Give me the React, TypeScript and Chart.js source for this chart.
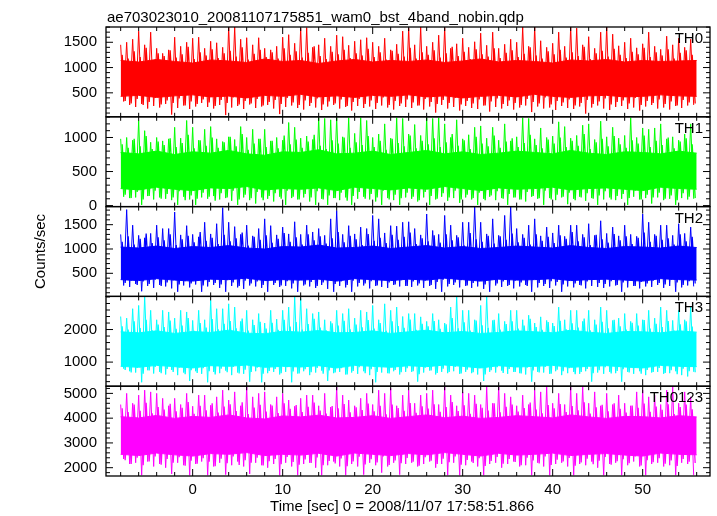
import React, { useEffect, useRef } from "react";
import { Chart, registerables } from "chart.js";

Chart.register(...registerables);

const TITLE = "ae703023010_20081107175851_wam0_bst_4band_nobin.qdp";
const X_TITLE = "Time [sec] 0 = 2008/11/07 17:58:51.866";
const Y_TITLE = "Counts/sec";

const T_START = -8;
const T_END = 56;
const X_MIN = -9.63;
const X_MAX = 57.48;
const X_TICKS = [0, 10, 20, 30, 40, 50];
const X_MINOR = 2;

const BANDS = ["TH0", "TH1", "TH2", "TH3", "TH0123"];
const COLORS = ["#ff0000", "#00ff00", "#0000ff", "#00ffff", "#ff00ff"];
const Y_RANGES = [
  [26, 1802],
  [-15, 1304],
  [25, 1872],
  [260, 3018],
  [1665, 5290],
];
const Y_TICKS = [
  [500, 1000, 1500],
  [0, 500, 1000],
  [500, 1000, 1500],
  [1000, 2000],
  [2000, 3000, 4000, 5000],
];
const Y_MINOR = [100, 100, 100, 200, 200];

// ---- TH0 ----
const TH0_HI = [
  1450, 1500, 1560, 1720, 1450, 1700, 1380, 1280,
  1350, 1600, 1420, 1500, 1580, 1600, 1380, 1520,
  1490, 1400, 1802, 1802, 1560, 1590, 1450, 1590,
  1380, 1350, 1420, 1600, 1650, 1480, 1780, 1790,
  1400, 1450, 1580, 1420, 1640, 1610, 1440, 1520,
  1550, 1590, 1500, 1420, 1580, 1350, 1460, 1720,
  1780, 1450, 1802, 1420, 1500, 1640, 1790, 1380,
  1470, 1580, 1400, 1510, 1680, 1440, 1700, 1380,
  1460, 1560, 1500, 1802, 1420, 1802, 1530, 1400,
  1480, 1700, 1420, 1802, 1780, 1450, 1610, 1380,
  1700, 1802, 1660, 1430, 1500, 1580, 1390, 1470,
  1700, 1420, 1360, 1620, 1450, 1580, 1400, 1560,
];
const TH0_LO = [
  330, 260, 220, 280, 190, 240, 210, 280,
  70, 200, 250, 180, 230, 300, 220, 190,
  260, 60, 210, 240, 180, 270, 200, 230,
  260, 190, 80, 220, 250, 200, 170, 240,
  210, 160, 230, 260, 190, 220, 150, 240,
  200, 230, 180, 250, 210, 170, 240, 220,
  200, 250, 170, 230, 110, 260, 190, 220,
  150, 240, 200, 180, 250, 130, 220, 190,
  240, 170, 210, 250, 120, 230, 190, 210,
  160, 240, 200, 180, 230, 90, 210, 250,
  190, 160, 220, 240, 180, 210, 150, 230,
  260, 190, 210, 170, 240, 200, 250, 260,
];
const TH0_MID_HI = [
  1250, 1180, 1320, 1210, 1390, 1150, 1280, 1230,
  1340, 1200, 1260, 1410, 1170, 1300, 1240, 1360,
  1190, 1280, 1330, 1220, 1400, 1160, 1270, 1350,
  1210, 1300, 1180, 1380, 1250, 1320, 1200, 1290,
  1420, 1230, 1170, 1310, 1260, 1350, 1190, 1280,
  1240, 1370, 1210, 1300, 1160, 1330, 1270, 1220,
  1390, 1180, 1300, 1250, 1340, 1200, 1280, 1410,
  1230, 1310, 1170, 1360, 1260, 1220, 1380, 1190,
  1290, 1340, 1210, 1270, 1400, 1240, 1180, 1320,
  1260, 1350, 1200, 1300, 1230, 1410, 1170, 1280,
  1330, 1220, 1370, 1250, 1190, 1310, 1260, 1390,
  1210, 1300, 1240, 1360, 1180, 1290, 1340, 1250,
];
const TH0_MID_LO = [
  340, 290, 380, 260, 320, 400, 270, 350,
  300, 390, 250, 330, 280, 370, 310, 240,
  360, 300, 410, 270, 340, 290, 380, 250,
  320, 360, 280, 400, 310, 260, 350, 300,
  390, 270, 330, 290, 370, 240, 320, 380,
  280, 350, 300, 410, 260, 340, 290, 370,
  310, 250, 380, 320, 280, 360, 300, 400,
  270, 340, 290, 370, 250, 330, 390, 280,
  350, 300, 260, 380, 320, 290, 410, 270,
  340, 310, 370, 250, 300, 360, 280, 330,
  390, 270, 320, 350, 290, 400, 260, 340,
  300, 370, 280, 330, 250, 360, 310, 290,
];
const TH0_CORE_HI = [1140, 1110, 1160, 1120, 1090, 1150, 1130, 1100, 1170, 1120, 1140, 1080, 1130, 1160, 1110, 1140, 1120, 1150, 1100, 1130, 1170, 1110, 1140, 1120, 1090, 1150, 1130, 1160, 1110, 1140, 1120, 1130, 1140];
const TH0_CORE_LO = [430, 450, 410, 440, 460, 420, 435, 400, 450, 430, 470, 420, 440, 410, 450, 430, 460, 420, 440, 400, 430, 450, 420, 470, 430, 410, 440, 450, 420, 430, 460, 440, 430];

// ---- TH1 ----
const TH1_HI = [
  980, 1000, 960, 1250, 1100, 930, 1000, 950,
  980, 1150, 990, 1250, 1150, 960, 1120, 1160,
  980, 940, 1010, 970, 1160, 1000, 1120, 980,
  1120, 950, 1000, 960, 1220, 1150, 990, 1020,
  970, 1290, 1280, 1260, 1290, 1010, 1290, 1060,
  1290, 1250, 1000, 1050, 1200, 990, 1290, 1280,
  1050, 1190, 1030, 1290, 1280, 1290, 1200, 1000,
  1260, 980, 1040, 1150, 1170, 990, 1150, 960,
  1200, 950, 1010, 1290, 1280, 980, 1140, 1000,
  1020, 1230, 1160, 990, 1030, 1180, 1200, 970,
  1240, 1010, 1150, 990, 1030, 1290, 1000, 1140,
  1120, 1140, 1200, 980, 1010, 960, 1050, 1200,
];
const TH1_LO = [
  130, 110, 120, 10, 140, 90, 120, 100,
  80, 10, 130, 90, 10, 120, 100, 140,
  90, 110, 70, 10, 120, 80, 30, 120,
  100, 60, 130, 10, 110, 90, 120, 60,
  10, 100, 10, 110, 80, 120, 10, 100,
  130, 90, 60, 10, 110, 80, 10, 120,
  100, 60, 120, 10, 90, 130, 70, 110,
  40, 120, 90, 10, 100, 130, 80, 110,
  10, 120, 90, 60, 130, 100, 10, 110,
  80, 120, 20, 100, 130, 70, 110, 10,
  90, 120, 80, 100, 10, 130, 90, 110,
  30, 120, 80, 100, 10, 110, 90, 100,
];
const TH1_MID_HI = [
  900, 850, 980, 870, 1020, 830, 940, 890,
  990, 860, 920, 1040, 840, 960, 880, 1000,
  850, 930, 1010, 870, 1050, 820, 910, 980,
  860, 950, 840, 1030, 900, 970, 850, 940,
  1040, 880, 830, 960, 910, 1000, 850, 930,
  890, 1020, 860, 950, 820, 980, 920, 870,
  1030, 840, 950, 900, 990, 860, 930, 1050,
  880, 960, 830, 1010, 910, 870, 1030, 850,
  940, 990, 860, 920, 1040, 890, 840, 970,
  910, 1000, 860, 950, 880, 1050, 830, 930,
  980, 870, 1020, 900, 850, 960, 910, 1030,
  860, 950, 890, 1000, 840, 940, 990, 900,
];
const TH1_MID_LO = [
  160, 110, 200, 90, 140, 220, 100, 170,
  120, 210, 80, 150, 100, 190, 130, 70,
  180, 120, 220, 90, 160, 110, 200, 80,
  140, 180, 100, 220, 130, 90, 170, 120,
  210, 90, 150, 110, 190, 70, 140, 200,
  100, 170, 120, 220, 90, 160, 110, 190,
  130, 80, 200, 140, 100, 180, 120, 220,
  90, 160, 110, 190, 80, 150, 210, 100,
  170, 120, 90, 200, 140, 110, 220, 90,
  160, 130, 190, 80, 120, 180, 100, 150,
  210, 90, 140, 170, 110, 220, 90, 160,
  120, 190, 100, 150, 80, 180, 130, 110,
];
const TH1_CORE_HI = [780, 760, 800, 750, 790, 770, 810, 760, 740, 790, 780, 820, 760, 770, 800, 750, 780, 810, 760, 790, 750, 770, 800, 780, 760, 810, 770, 750, 790, 780, 760, 800, 770];
const TH1_CORE_LO = [250, 230, 270, 240, 220, 260, 250, 280, 230, 250, 240, 260, 220, 270, 250, 230, 260, 240, 280, 250, 220, 260, 240, 250, 270, 230, 250, 260, 240, 220, 270, 250, 240];

// ---- TH2 ----
const TH2_HI = [
  1300, 1810, 1490, 1280, 1230, 1320, 1490, 1420,
  1420, 1760, 1290, 1480, 1300, 1250, 1550, 1310,
  1520, 1850, 1550, 1460, 1300, 1490, 1270, 1420,
  1620, 1480, 1290, 1450, 1310, 1560, 1300, 1490,
  1350, 1420, 1280, 1620, 1790, 1300, 1480, 1310,
  1450, 1420, 1690, 1620, 1330, 1480, 1470, 1550,
  1560, 1420, 1290, 1720, 1380, 1300, 1690, 1490,
  1280, 1550, 1550, 1870, 1550, 1310, 1620, 1280,
  1690, 1870, 1420, 1300, 1490, 1620, 1270, 1450,
  1330, 1490, 1260, 1490, 1490, 1300, 1520, 1280,
  1580, 1320, 1450, 1270, 1490, 1300, 1260, 1720,
  1550, 1300, 1490, 1490, 1280, 1520, 1320, 1450,
];
const TH2_LO = [
  250, 220, 280, 130, 240, 200, 260, 230,
  190, 120, 250, 210, 270, 120, 230, 260,
  200, 120, 240, 210, 180, 250, 230, 200,
  120, 260, 220, 240, 190, 120, 250, 230,
  200, 260, 180, 120, 240, 210, 120, 230,
  250, 190, 240, 220, 200, 260, 230, 240,
  220, 250, 200, 240, 180, 120, 230, 260,
  210, 240, 200, 230, 180, 120, 250, 220,
  240, 190, 230, 260, 120, 210, 240, 200,
  250, 120, 230, 210, 260, 190, 240, 220,
  200, 230, 250, 120, 210, 240, 190, 230,
  220, 260, 200, 240, 120, 210, 250, 230,
];
const TH2_MID_HI = [
  1150, 1260, 1090, 1210, 1320, 1120, 1240, 1180,
  1300, 1080, 1200, 1270, 1140, 1350, 1170, 1230,
  1100, 1290, 1160, 1220, 1340, 1070, 1250, 1190,
  1280, 1130, 1210, 1330, 1150, 1240, 1090, 1300,
  1180, 1260, 1110, 1220, 1350, 1140, 1270, 1200,
  1080, 1310, 1170, 1230, 1120, 1290, 1190, 1250,
  1340, 1100, 1220, 1160, 1280, 1130, 1300, 1180,
  1240, 1070, 1330, 1200, 1150, 1270, 1110, 1260,
  1190, 1320, 1140, 1230, 1090, 1300, 1170, 1250,
  1120, 1280, 1210, 1350, 1160, 1240, 1080, 1290,
  1200, 1130, 1310, 1180, 1260, 1100, 1230, 1340,
  1150, 1270, 1190, 1220, 1090, 1300, 1160, 1250,
];
const TH2_MID_LO = [
  300, 350, 260, 330, 280, 370, 240, 310,
  360, 270, 340, 290, 380, 250, 320, 300,
  270, 360, 310, 240, 350, 290, 330, 260,
  380, 300, 250, 340, 290, 360, 270, 320,
  240, 310, 370, 280, 330, 260, 350, 300,
  290, 340, 250, 380, 310, 270, 360, 240,
  330, 290, 350, 260, 320, 370, 280, 310,
  360, 250, 300, 340, 270, 380, 290, 330,
  260, 350, 310, 240, 370, 300, 280, 340,
  320, 270, 360, 290, 250, 330, 380, 300,
  280, 340, 260, 310, 360, 240, 320, 290,
  350, 300, 270, 370, 310, 260, 340, 290,
];
const TH2_CORE_HI = [1040, 1020, 1060, 1010, 1050, 1030, 1070, 1020, 1000, 1050, 1040, 1080, 1020, 1030, 1060, 1010, 1040, 1070, 1020, 1050, 1010, 1030, 1060, 1040, 1020, 1070, 1030, 1010, 1050, 1040, 1020, 1060, 1030];
const TH2_CORE_LO = [370, 350, 390, 360, 340, 380, 370, 400, 350, 370, 360, 380, 340, 390, 370, 350, 380, 360, 400, 370, 340, 380, 360, 370, 390, 350, 370, 380, 360, 340, 390, 370, 360];

// ---- TH3 ----
const TH3_HI = [
  2400, 2350, 2640, 2740, 3010, 2590, 2300, 2590,
  2540, 2350, 2590, 2540, 2280, 2590, 2300, 2900,
  2640, 2640, 2790, 2690, 2250, 2590, 2300, 2490,
  2200, 2590, 2320, 2590, 2690, 3010, 2950, 2640,
  2490, 2540, 2300, 2250, 2590, 2490, 2640, 2350,
  2590, 2540, 2740, 2300, 2790, 2590, 2690, 2400,
  2490, 2490, 2390, 2250, 2490, 2300, 2200, 2690,
  3010, 2590, 2590, 2300, 2740, 3010, 2280, 2490,
  2250, 2590, 2590, 2300, 2440, 2200, 2390, 2280,
  2200, 2690, 2300, 2590, 2590, 2250, 2590, 2300,
  2690, 2590, 2280, 2350, 2490, 2250, 2490, 2300,
  2590, 2350, 2690, 2590, 2280, 2590, 2300, 2690,
];
const TH3_LO = [
  800, 720, 680, 380, 750, 650, 700, 620,
  760, 600, 680, 420, 720, 640, 380, 700,
  660, 740, 600, 680, 640, 400, 720, 380,
  660, 700, 620, 700, 380, 650, 720, 600,
  680, 740, 420, 660, 700, 620, 680, 640,
  720, 600, 380, 680, 660, 720, 620, 700,
  700, 400, 680, 740, 620, 700, 660, 720,
  640, 700, 660, 620, 420, 700, 680, 740,
  640, 700, 660, 620, 400, 700, 680, 640,
  720, 600, 660, 700, 640, 720, 400, 680,
  640, 700, 660, 400, 700, 640, 720, 600,
  680, 700, 640, 660, 720, 600, 560, 700,
];
const TH3_MID_HI = [
  2100, 2000, 2250, 2050, 2300, 1980, 2150, 2080,
  2280, 2020, 2120, 2350, 1960, 2200, 2060, 2320,
  2010, 2180, 2260, 2040, 2340, 1970, 2140, 2240,
  2030, 2210, 1990, 2300, 2090, 2230, 2000, 2170,
  2330, 2060, 1980, 2190, 2120, 2270, 2010, 2150,
  2070, 2290, 2030, 2200, 1960, 2250, 2110, 2050,
  2310, 1990, 2180, 2100, 2260, 2020, 2160, 2350,
  2040, 2220, 1970, 2280, 2130, 2050, 2300, 2000,
  2170, 2250, 2030, 2120, 2330, 2080, 1990, 2230,
  2110, 2270, 2010, 2190, 2060, 2340, 1980, 2150,
  2240, 2040, 2300, 2100, 2000, 2210, 2120, 2290,
  2030, 2180, 2080, 2260, 1970, 2160, 2250, 2090,
];
const TH3_MID_LO = [
  760, 680, 820, 640, 740, 850, 660, 790,
  700, 830, 630, 750, 670, 810, 720, 620,
  800, 690, 850, 650, 770, 700, 830, 640,
  730, 790, 660, 840, 710, 650, 780, 690,
  820, 640, 740, 680, 810, 620, 730, 840,
  660, 780, 700, 850, 650, 760, 690, 810,
  720, 630, 830, 740, 670, 800, 700, 850,
  650, 770, 690, 810, 620, 750, 840, 670,
  790, 700, 650, 830, 740, 680, 850, 640,
  770, 720, 810, 630, 700, 790, 660, 750,
  840, 650, 730, 780, 680, 850, 640, 760,
  700, 820, 670, 750, 630, 800, 720, 690,
];
const TH3_CORE_HI = [1930, 1900, 1960, 1880, 1940, 1910, 1980, 1890, 1870, 1950, 1920, 1970, 1900, 1910, 1960, 1880, 1930, 1980, 1900, 1940, 1880, 1910, 1960, 1930, 1900, 1980, 1920, 1880, 1940, 1930, 1900, 1960, 1920];
const TH3_CORE_LO = [870, 840, 900, 860, 820, 890, 870, 910, 840, 870, 850, 890, 820, 900, 870, 840, 890, 860, 910, 870, 820, 890, 850, 870, 900, 840, 870, 890, 850, 820, 900, 870, 860];

// ---- TH0123 ----
const TH0123_HI = [
  4550, 5000, 4600, 4930, 5130, 5060, 5000, 4800,
  4500, 4800, 4550, 5000, 4480, 4930, 4930, 4520,
  4860, 5130, 4730, 5060, 4500, 5268, 4860, 5000,
  5060, 4550, 4860, 5000, 4730, 4480, 4800, 4930,
  4930, 4500, 5000, 4450, 5268, 4930, 4730, 4500,
  4800, 5000, 4550, 5130, 5000, 5200, 4500, 4930,
  5130, 4600, 4930, 5000, 5130, 4550, 5268, 4930,
  4500, 5060, 5000, 4930, 4550, 5268, 4600, 5286,
  5000, 4860, 4500, 4930, 4550, 5130, 5060, 5268,
  4600, 5000, 4550, 5268, 5000, 5268, 4600, 5060,
  4500, 5000, 4550, 4930, 4600, 4500, 5060, 5130,
  4860, 4930, 4550, 5130, 5268, 4600, 5060, 4860,
];
const TH0123_LO = [
  2350, 2150, 2200, 1700, 2250, 2050, 2150, 2000,
  1750, 2200, 2100, 1700, 2150, 2250, 1700, 2050,
  2200, 1720, 2100, 2250, 2050, 1750, 2200, 2100,
  2000, 2150, 1700, 2200, 2050, 1700, 2150, 2200,
  2000, 1700, 2100, 2250, 2050, 1700, 2150, 2050,
  1720, 2200, 2100, 1800, 2050, 2200, 1720, 2150,
  2200, 2050, 2150, 2250, 2000, 2150, 1700, 2200,
  1700, 2100, 2250, 2050, 1700, 2150, 2200, 2000,
  2150, 2250, 2050, 2100, 1700, 2200, 2050, 1700,
  2150, 2200, 2050, 1700, 2150, 2100, 2250, 2000,
  1700, 2150, 2200, 1700, 2100, 2250, 2050, 1700,
  2150, 2200, 2050, 2100, 1700, 2200, 2150, 1700,
];
const TH0123_MID_HI = [
  4400, 4250, 4550, 4300, 4620, 4200, 4450, 4350,
  4580, 4280, 4420, 4650, 4180, 4500, 4320, 4600,
  4230, 4470, 4560, 4290, 4640, 4170, 4430, 4540,
  4270, 4510, 4210, 4600, 4380, 4530, 4250, 4460,
  4630, 4310, 4190, 4490, 4400, 4570, 4240, 4440,
  4330, 4590, 4280, 4500, 4160, 4550, 4410, 4300,
  4610, 4220, 4480, 4390, 4560, 4260, 4450, 4650,
  4290, 4520, 4180, 4580, 4420, 4310, 4600, 4240,
  4460, 4550, 4270, 4410, 4630, 4350, 4200, 4530,
  4400, 4570, 4250, 4490, 4320, 4640, 4190, 4440,
  4540, 4280, 4600, 4380, 4230, 4510, 4420, 4590,
  4260, 4470, 4340, 4560, 4170, 4450, 4550, 4360,
];
const TH0123_MID_LO = [
  2300, 2150, 2400, 2100, 2250, 2450, 2120, 2350,
  2200, 2420, 2080, 2280, 2160, 2380, 2240, 2060,
  2360, 2180, 2450, 2110, 2300, 2200, 2400, 2090,
  2260, 2350, 2140, 2430, 2230, 2120, 2330, 2190,
  2410, 2100, 2270, 2170, 2370, 2060, 2250, 2440,
  2130, 2340, 2210, 2450, 2110, 2290, 2180, 2390,
  2240, 2080, 2420, 2280, 2150, 2360, 2220, 2450,
  2120, 2310, 2190, 2380, 2070, 2270, 2430, 2160,
  2350, 2230, 2100, 2400, 2290, 2170, 2450, 2110,
  2320, 2250, 2390, 2080, 2210, 2360, 2140, 2280,
  2430, 2120, 2260, 2340, 2180, 2450, 2090, 2300,
  2220, 2380, 2160, 2290, 2070, 2350, 2240, 2190,
];
const TH0123_CORE_HI = [4060, 4010, 4110, 3990, 4070, 4030, 4130, 4010, 3970, 4090, 4050, 4120, 4010, 4030, 4100, 3990, 4060, 4130, 4020, 4080, 3990, 4030, 4100, 4060, 4010, 4130, 4050, 3990, 4070, 4060, 4010, 4100, 4050];
const TH0123_CORE_LO = [2540, 2490, 2590, 2520, 2470, 2570, 2540, 2610, 2490, 2540, 2510, 2580, 2470, 2590, 2540, 2490, 2570, 2520, 2610, 2540, 2470, 2580, 2510, 2540, 2590, 2490, 2540, 2570, 2510, 2470, 2590, 2540, 2520];

const SERIES_HI = [TH0_HI, TH1_HI, TH2_HI, TH3_HI, TH0123_HI];
const SERIES_LO = [TH0_LO, TH1_LO, TH2_LO, TH3_LO, TH0123_LO];
const MID_HI = [TH0_MID_HI, TH1_MID_HI, TH2_MID_HI, TH3_MID_HI, TH0123_MID_HI];
const MID_LO = [TH0_MID_LO, TH1_MID_LO, TH2_MID_LO, TH3_MID_LO, TH0123_MID_LO];
const CORE_HI = [TH0_CORE_HI, TH1_CORE_HI, TH2_CORE_HI, TH3_CORE_HI, TH0123_CORE_HI];
const CORE_LO = [TH0_CORE_LO, TH1_CORE_LO, TH2_CORE_LO, TH3_CORE_LO, TH0123_CORE_LO];

const FONT = "'Liberation Sans', Arial, Helvetica, sans-serif";

function zigzag(hi: number[], lo: number[], shift: number) {
  const n = hi.length;
  const step = (T_END - T_START) / n;
  const pts: { x: number; y: number }[] = [];
  for (let i = 0; i < n; i++) {
    pts.push({ x: T_START + (i + shift) * step, y: hi[i] });
    pts.push({ x: T_START + (i + shift + 0.5) * step, y: lo[i] });
  }
  return pts;
}

function coreLine(vals: number[]) {
  const step = (T_END - T_START) / (vals.length - 1);
  return vals.map((v, i) => ({ x: T_START + i * step, y: v }));
}

const decor = {
  id: "decor",
  beforeDatasetDraw(chart: any, args: any) {
    const ys = args.meta.yScale;
    const a = chart.chartArea;
    const ctx = chart.ctx;
    ctx.save();
    ctx.beginPath();
    ctx.rect(a.left, ys.top, a.right - a.left, ys.bottom - ys.top);
    ctx.clip();
  },
  afterDatasetDraw(chart: any) {
    chart.ctx.restore();
  },
  afterDraw(chart: any) {
    const ctx = chart.ctx;
    const a = chart.chartArea;
    const xs = chart.scales.x;
    ctx.save();
    ctx.strokeStyle = "#000";
    const seg = (x1: number, y1: number, x2: number, y2: number) => {
      ctx.beginPath();
      ctx.moveTo(x1, y1);
      ctx.lineTo(x2, y2);
      ctx.stroke();
    };
    BANDS.forEach((name, p) => {
      const ys = chart.scales["y" + p];
      const top = ys.top;
      const bot = ys.bottom;
      ctx.lineWidth = 1.3;
      ctx.strokeRect(a.left, top, a.right - a.left, bot - top);
      ctx.lineWidth = 1;
      const [mn, mx] = Y_RANGES[p];
      const st = Y_MINOR[p];
      for (let v = Math.ceil(mn / st) * st; v <= mx; v += st) {
        const y = ys.getPixelForValue(v);
        const len = Y_TICKS[p].includes(v) ? 7 : 4;
        seg(a.left, y, a.left + len, y);
        seg(a.right, y, a.right - len, y);
      }
      for (let t = T_START; t <= T_END; t += X_MINOR) {
        const x = xs.getPixelForValue(t);
        const len = t % 10 === 0 ? 7 : 4;
        seg(x, top, x, top + len);
        seg(x, bot, x, bot - len);
      }
      ctx.fillStyle = "#000";
      ctx.font = "15px " + FONT;
      ctx.textAlign = "right";
      ctx.textBaseline = "alphabetic";
      ctx.fillText(name, a.right - 7, top + 16);
    });
    ctx.fillStyle = "#000";
    ctx.font = "15px " + FONT;
    ctx.textAlign = "left";
    ctx.textBaseline = "alphabetic";
    ctx.fillText(TITLE, a.left + 1, 22);
    ctx.textAlign = "center";
    ctx.textBaseline = "middle";
    ctx.fillText(X_TITLE, (a.left + a.right) / 2 - 6, 507);
    ctx.save();
    ctx.translate(41, (a.top + a.bottom) / 2);
    ctx.rotate(-Math.PI / 2);
    ctx.fillText(Y_TITLE, 0, 0);
    ctx.restore();
    ctx.restore();
  },
};

export default function App() {
  const ref = useRef<HTMLCanvasElement | null>(null);
  useEffect(() => {
    if (!ref.current) return;
    const datasets: any[] = [];
    BANDS.forEach((name, p) => {
      const col = COLORS[p];
      const axis = "y" + p;
      const base = datasets.length;
      datasets.push({
        label: name + " core low",
        data: coreLine(CORE_LO[p]),
        yAxisID: axis,
        borderColor: col,
        borderWidth: 1,
        pointRadius: 0,
        fill: false,
      });
      datasets.push({
        label: name + " core high",
        data: coreLine(CORE_HI[p]),
        yAxisID: axis,
        borderColor: col,
        backgroundColor: col,
        borderWidth: 1,
        pointRadius: 0,
        fill: base,
      });
      datasets.push({
        label: name + " mid",
        data: zigzag(MID_HI[p], MID_LO[p], 0.25),
        yAxisID: axis,
        borderColor: col,
        borderWidth: 1.3,
        pointRadius: 0,
        fill: false,
      });
      datasets.push({
        label: name,
        data: zigzag(SERIES_HI[p], SERIES_LO[p], 0),
        yAxisID: axis,
        borderColor: col,
        borderWidth: 1,
        pointRadius: 0,
        fill: false,
      });
    });

    const scales: any = {
      x: {
        type: "linear",
        position: "bottom",
        min: X_MIN,
        max: X_MAX,
        grid: { display: false, drawTicks: false },
        border: { display: false },
        ticks: {
          padding: 5,
          color: "#000",
          font: { family: FONT, size: 15 },
          autoSkip: false,
          maxRotation: 0,
          callback: (v: any) => String(v),
        },
        afterBuildTicks: (s: any) => {
          s.ticks = X_TICKS.map((v) => ({ value: v }));
        },
        afterFit: (s: any) => {
          s.height = 40;
        },
      },
    };
    for (let p = BANDS.length - 1; p >= 0; p--) {
      scales["y" + p] = {
        type: "linear",
        position: "left",
        stack: "panels",
        stackWeight: 1,
        min: Y_RANGES[p][0],
        max: Y_RANGES[p][1],
        grid: { display: false, drawTicks: false },
        border: { display: false },
        ticks: {
          padding: 9,
          color: "#000",
          font: { family: FONT, size: 15 },
          autoSkip: false,
          callback: (v: any) => String(v),
        },
        afterBuildTicks: (s: any) => {
          s.ticks = Y_TICKS[p].map((v) => ({ value: v }));
        },
        afterFit: (s: any) => {
          s.width = 106;
        },
      };
    }

    const chart = new Chart(ref.current, {
      type: "line",
      data: { datasets },
      options: {
        animation: false,
        responsive: false,
        devicePixelRatio: 1,
        layout: { padding: { top: 27, right: 7, left: 0, bottom: 0 } },
        plugins: { legend: { display: false }, tooltip: { enabled: false }, title: { display: false } },
        elements: { line: { tension: 0 } },
        scales,
      },
      plugins: [decor],
    } as any);
    return () => chart.destroy();
  }, []);
  return (
    <div style={{ position: "absolute", left: 0, top: 0, width: 717, height: 516, background: "#fff" }}>
      <canvas ref={ref} width={717} height={516} style={{ display: "block" }} />
    </div>
  );
}
